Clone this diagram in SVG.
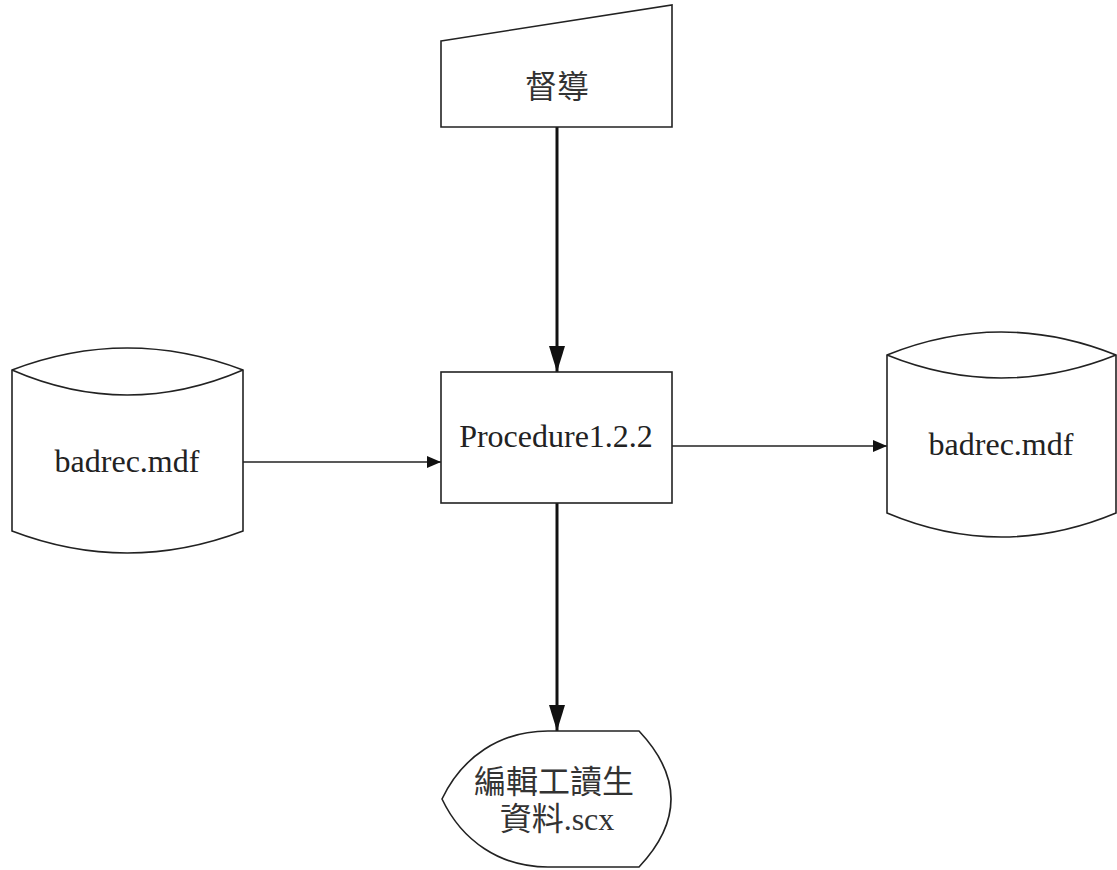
<svg xmlns="http://www.w3.org/2000/svg" width="1117" height="870" viewBox="0 0 1117 870">
<style>
.shape{fill:#fff;stroke:#222;stroke-width:1.6}
.lat{font-family:"Liberation Serif","Times New Roman",serif;font-size:32px;fill:#222}
.cjk{font-family:"Liberation Serif","Noto Sans CJK TC",serif;font-size:32px;fill:#333}
.thin{stroke:#222;stroke-width:1.6;fill:none}
.thick{stroke:#111;stroke-width:3;fill:none}
</style>
<defs>
<marker id="small" markerUnits="userSpaceOnUse" markerWidth="14" markerHeight="12" refX="14" refY="6" orient="auto">
<path d="M0,0 L14,6 L0,12 Z" fill="#111"/>
</marker>
<marker id="big" markerUnits="userSpaceOnUse" markerWidth="26" markerHeight="16" refX="26" refY="8" orient="auto">
<path d="M0,0 L26,8 L0,16 Z" fill="#111"/>
</marker>
</defs>
<rect width="1117" height="870" fill="#fff"/>
<g id="connectors">
<line class="thick" x1="557" y1="127" x2="557" y2="372" marker-end="url(#big)"/>
<line class="thick" x1="557" y1="503" x2="557" y2="731" marker-end="url(#big)"/>
<line class="thin" x1="243" y1="462" x2="441" y2="462" marker-end="url(#small)"/>
<line class="thin" x1="672" y1="446" x2="887" y2="446" marker-end="url(#small)"/>
</g>
<g id="supervisor">
<path class="shape" d="M441,41 L672,5 L672,127 L441,127 Z"/>
<text class="cjk" x="557" y="98" text-anchor="middle">督導</text>
</g>
<g id="procedure">
<rect class="shape" x="441" y="372" width="231" height="131"/>
<text class="lat" x="556" y="447" text-anchor="middle">Procedure1.2.2</text>
</g>
<g id="db-left">
<path class="shape" d="M12,370 Q127,326 243,370 L243,531 Q127,575 12,531 Z"/>
<path class="thin" d="M12,370 Q127,420 243,370"/>
<text class="lat" x="127" y="472" text-anchor="middle">badrec.mdf</text>
</g>
<g id="db-right">
<path class="shape" d="M887,355 Q1001,309 1116,355 L1116,513 Q1001,561 887,513 Z"/>
<path class="thin" d="M887,355 Q1001,401 1116,355"/>
<text class="lat" x="1001" y="455" text-anchor="middle">badrec.mdf</text>
</g>
<g id="output">
<path class="shape" d="M442,799 C462,757 500,731 548,731 L639,731 Q703,799 639,867 L548,867 C500,867 462,841 442,799 Z"/>
<text class="cjk" x="554" y="793" text-anchor="middle">編輯工讀生</text>
<text class="cjk" x="557" y="830" text-anchor="middle">資料.scx</text>
</g>
</svg>
